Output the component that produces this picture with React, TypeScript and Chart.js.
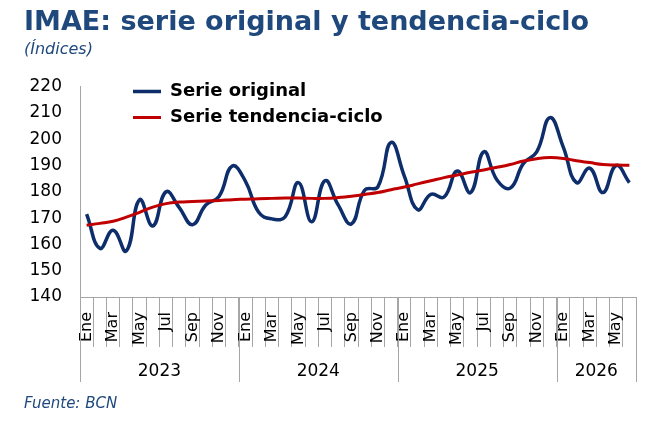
import React, { useEffect, useRef } from 'react';
import { Chart, registerables } from 'chart.js';

Chart.register(...registerables);

const years = ['2023', '2024', '2025', '2026'];
const monthsPerYear = [12, 12, 12, 6];
const monthNames = ['Ene', 'Feb', 'Mar', 'Abr', 'May', 'Jun', 'Jul', 'Ago', 'Sep', 'Oct', 'Nov', 'Dic'];
const shownMonths = ['Ene', 'Mar', 'May', 'Jul', 'Sep', 'Nov'];

const serieOriginal = [
  171.5, 158.5, 165.4, 157.5, 177.0, 167.0, 180.0, 174.0, 167.5, 175.0, 178.2, 189.8,
  184.0, 172.2, 169.7, 170.5, 183.5, 168.6, 184.2, 175.0, 167.8, 180.6, 181.9, 198.8,
  186.0, 173.2, 179.0, 178.0, 187.9, 179.7, 195.2, 184.5, 181.4, 190.8, 195.2, 208.2,
  197.1, 183.5, 189.0, 179.7, 190.0, 183.5,
];

const serieTendencia = [
  167.3, 168.0, 168.8, 170.4, 172.2, 174.2, 175.5, 176.1, 176.3, 176.5, 176.7, 177.0,
  177.2, 177.4, 177.5, 177.6, 177.6, 177.5, 177.5, 177.8, 178.3, 179.0, 179.7, 180.8,
  181.8, 183.0, 184.2, 185.4, 186.4, 187.4, 188.3, 189.3, 190.4, 191.7, 192.6, 193.0,
  192.7, 191.8, 191.1, 190.4, 190.2, 190.1,
];

const yTicks = { min: 140, max: 220, step: 10 };

const labels: string[] = [];
monthsPerYear.forEach((n) => {
  for (let m = 0; m < n; m++) labels.push(monthNames[m]);
});

const FONT = '"DejaVu Sans", Verdana, sans-serif';
const GRAY = '#A6A6A6';
const NAVY = '#1F497D';

// legend sits inside the plot, a bit to the right of the y axis
const legendOffset = {
  id: 'legendOffset',
  afterLayout(chart: any) {
    const lg = chart.legend;
    if (!lg) return;
    const h = lg.bottom - lg.top;
    lg.left = chart.chartArea.left + 45;
    lg.top = chart.chartArea.top - 12;
    lg.bottom = lg.top + h;
  },
};

// second row of the x axis: year groups with separators
const yearAxis = {
  id: 'yearAxis',
  afterDraw(chart: any) {
    const { ctx, chartArea } = chart;
    const x = chart.scales.x;
    const half = (x.getPixelForValue(1) - x.getPixelForValue(0)) / 2;
    const bottom = chartArea.bottom;
    ctx.save();
    ctx.strokeStyle = GRAY;
    ctx.lineWidth = 1;
    ctx.fillStyle = '#000';
    ctx.font = `17px ${FONT}`;
    ctx.textAlign = 'center';
    ctx.textBaseline = 'middle';
    let start = 0;
    years.forEach((yr, k) => {
      const end = start + monthsPerYear[k] - 1;
      const x0 = x.getPixelForValue(start) - half;
      const x1 = x.getPixelForValue(end) + half;
      const edges = k === years.length - 1 ? [x0, x1] : [x0];
      edges.forEach((px) => {
        const cx = Math.round(px) + 0.5;
        ctx.beginPath();
        ctx.moveTo(cx, bottom);
        ctx.lineTo(cx, bottom + 85);
        ctx.stroke();
      });
      ctx.fillText(yr, (x0 + x1) / 2, bottom + 75);
      start = end + 1;
    });
    ctx.restore();
  },
};

const ImaeChart: React.FC = () => {
  const chartRef = useRef<HTMLCanvasElement>(null);
  const chartInstanceRef = useRef<Chart | null>(null);

  useEffect(() => {
    if (!chartRef.current) return;
    if (chartInstanceRef.current) chartInstanceRef.current.destroy();
    const ctx = chartRef.current.getContext('2d');
    if (!ctx) return;

    chartInstanceRef.current = new Chart(ctx, {
      type: 'line',
      data: {
        labels,
        datasets: [
          {
            label: 'Serie original',
            data: serieOriginal,
            borderColor: '#0E2D6B',
            backgroundColor: '#0E2D6B',
            borderWidth: 3.5,
            pointRadius: 0,
            tension: 0.45,
            order: 1,
          },
          {
            label: 'Serie tendencia-ciclo',
            data: serieTendencia,
            borderColor: '#C00000',
            backgroundColor: '#C00000',
            borderWidth: 3,
            pointRadius: 0,
            tension: 0.45,
            order: 0,
          },
        ],
      },
      options: {
        animation: false,
        responsive: false,
        maintainAspectRatio: false,
        layout: { padding: { left: 24, right: 22, top: 0, bottom: 0 } },
        plugins: {
          title: {
            display: true,
            text: 'IMAE: serie original y tendencia-ciclo',
            align: 'start',
            color: NAVY,
            font: { family: FONT, size: 27, weight: 'bold' },
            padding: { top: 7, bottom: 1 },
          },
          subtitle: {
            display: true,
            text: '(Índices)',
            align: 'start',
            color: NAVY,
            font: { family: FONT, size: 16, style: 'italic' },
            padding: { top: 0, bottom: 27 },
          },
          legend: {
            position: 'chartArea',
            align: 'start',
            labels: {
              usePointStyle: true,
              pointStyle: 'line',
              pointStyleWidth: 28,
              padding: 8,
              color: '#000',
              font: { family: FONT, size: 18, weight: 'bold' },
              sort: (a: any, b: any) => a.datasetIndex - b.datasetIndex,
            },
          },
          tooltip: { enabled: false },
        },
        scales: {
          x: {
            type: 'category',
            offset: true,
            grid: {
              display: true,
              drawOnChartArea: false,
              offset: true,
              tickLength: 50,
              color: GRAY,
            },
            border: { display: true, color: GRAY },
            ticks: {
              autoSkip: false,
              minRotation: 90,
              maxRotation: 90,
              padding: -35,
              color: '#000',
              font: { family: FONT, size: 16 },
              callback: function (this: any, value: any) {
                const lbl = this.getLabelForValue(value);
                return shownMonths.includes(lbl) ? lbl : '';
              },
            },
            afterFit: (scale: any) => {
              scale.height = 143;
            },
          },
          y: {
            min: yTicks.min,
            max: yTicks.max,
            grid: { display: false, drawTicks: false },
            border: { display: true, color: GRAY },
            ticks: {
              stepSize: yTicks.step,
              padding: 18,
              color: '#000',
              font: { family: FONT, size: 17 },
            },
            afterFit: (scale: any) => {
              scale.width = 56;
            },
          },
        },
      },
      plugins: [legendOffset, yearAxis],
    });

    return () => {
      if (chartInstanceRef.current) {
        chartInstanceRef.current.destroy();
        chartInstanceRef.current = null;
      }
    };
  }, []);

  return (
    <div style={{ position: 'absolute', left: 0, top: 0, width: 658, height: 440, background: '#fff' }}>
      <canvas ref={chartRef} width={658} height={440} style={{ width: 658, height: 440 }}></canvas>
      <div
        style={{
          position: 'absolute',
          left: 24,
          top: 394,
          fontFamily: FONT,
          fontStyle: 'italic',
          fontSize: 15,
          lineHeight: '18px',
          color: NAVY,
        }}
      >
        Fuente: BCN
      </div>
    </div>
  );
};

export default function App() {
  return <ImaeChart />;
}
